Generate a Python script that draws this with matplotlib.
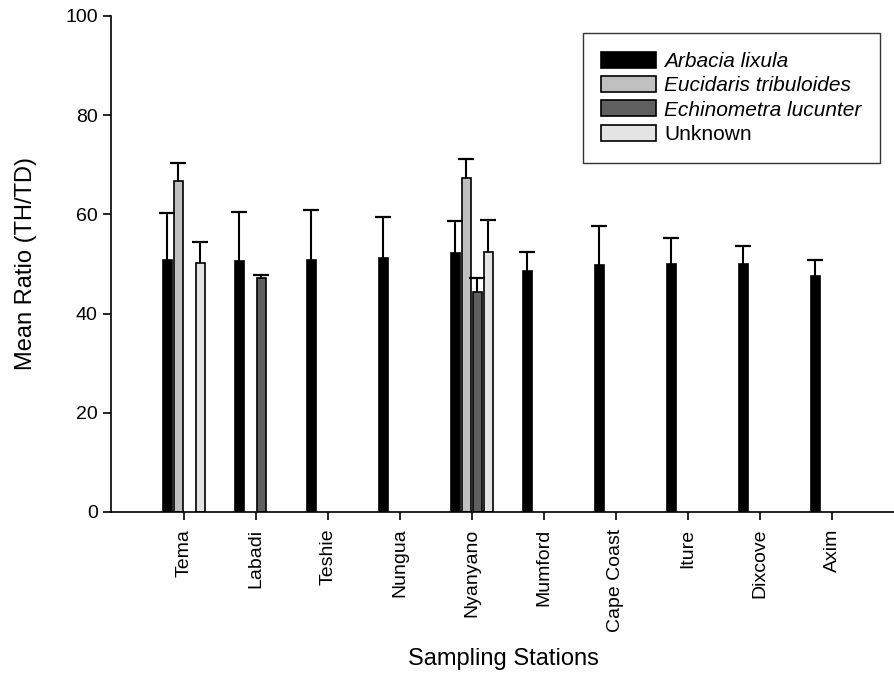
import matplotlib
matplotlib.use("Agg")
import matplotlib.pyplot as plt
import numpy as np

stations = ["Tema", "Labadi", "Teshie", "Nungua", "Nyanyano", "Mumford",
            "Cape Coast", "Iture", "Dixcove", "Axim"]
species = ["Arbacia lixula", "Eucidaris tribuloides", "Echinometra lucunter", "Unknown"]

arbacia = [50.8, 50.6, 50.8, 51.2, 52.2, 48.6, 49.8, 50.0, 50.0, 47.6]
arbacia_err = [9.5, 9.9, 10.1, 8.3, 6.5, 3.8, 7.9, 5.2, 3.6, 3.2]
eucidaris = [66.7, np.nan, np.nan, np.nan, 67.3, np.nan, np.nan, np.nan, np.nan, np.nan]
eucidaris_err = [3.7, 0, 0, 0, 3.9, 0, 0, 0, 0, 0]
echinometra = [np.nan, 47.2, np.nan, np.nan, 44.4, np.nan, np.nan, np.nan, np.nan, np.nan]
echinometra_err = [0, 0.6, 0, 0, 2.8, 0, 0, 0, 0, 0]
unknown = [50.2, np.nan, np.nan, np.nan, 52.4, np.nan, np.nan, np.nan, np.nan, np.nan]
unknown_err = [4.2, 0, 0, 0, 6.5, 0, 0, 0, 0, 0]

series = [arbacia, eucidaris, echinometra, unknown]
errors = [arbacia_err, eucidaris_err, echinometra_err, unknown_err]
colors = ["#000000", "#c0c0c0", "#606060", "#e4e4e4"]

plt.rcParams['font.family'] = ['Liberation Sans', 'DejaVu Sans']

fig = plt.figure(figsize=(8.95, 6.76), dpi=100)
ax = fig.add_axes([111/895, 1-512/676, 784/895, 496/676])

x = np.arange(len(stations))
step = 0.153
width = 0.125
offsets = [-1.5, -0.5, 0.5, 1.5]
for vals, errs, col, off, name in zip(series, errors, colors, offsets, species):
    v = np.array(vals, dtype=float)
    e = np.array(errs, dtype=float)
    mask = ~np.isnan(v)
    xs = x[mask] + off*step
    ax.bar(xs, v[mask], width, color=col, edgecolor='black',
           linewidth=1.2, label=name, zorder=2)
    ax.errorbar(xs, v[mask], yerr=[np.zeros(mask.sum()), e[mask]], fmt='none',
                ecolor='black', elinewidth=1.5, capsize=0, zorder=3)
    ax.plot(xs, v[mask] + e[mask], linestyle='none', marker='_',
            markersize=12, markeredgewidth=1.6, color='black', zorder=3)

ax.set_xlim(-1.01, 9.875)
ax.set_ylim(0, 100)
ax.set_xticks(x)
ax.set_xticklabels(stations, rotation=90, fontsize=14)
ax.set_yticks([0, 20, 40, 60, 80, 100])
ax.tick_params(axis='y', labelsize=14, length=6, width=1.2, direction='out')
ax.tick_params(axis='x', length=6, width=1.2, direction='out', pad=6)
for s in ['top', 'right']:
    ax.spines[s].set_visible(False)
for s in ['left', 'bottom']:
    ax.spines[s].set_linewidth(1.2)

ax.set_ylabel("Mean Ratio (TH/TD)", fontsize=17)
ax.yaxis.set_label_coords(-0.094, 0.5)
ax.set_xlabel("Sampling Stations", fontsize=17)
ax.xaxis.set_label_coords(0.5, -0.275)

leg = ax.legend(loc='upper right', bbox_to_anchor=(0.981, 0.966), fontsize=15,
                frameon=True, fancybox=False, edgecolor='black', handlelength=2.6,
                handleheight=0.8, borderpad=0.9, labelspacing=0.25, handletextpad=0.4,
                borderaxespad=0)
leg.get_frame().set_linewidth(1.0)
for i, t in enumerate(leg.get_texts()):
    if i < 3:
        t.set_fontstyle('italic')

fig.savefig("out.png", dpi=100)
